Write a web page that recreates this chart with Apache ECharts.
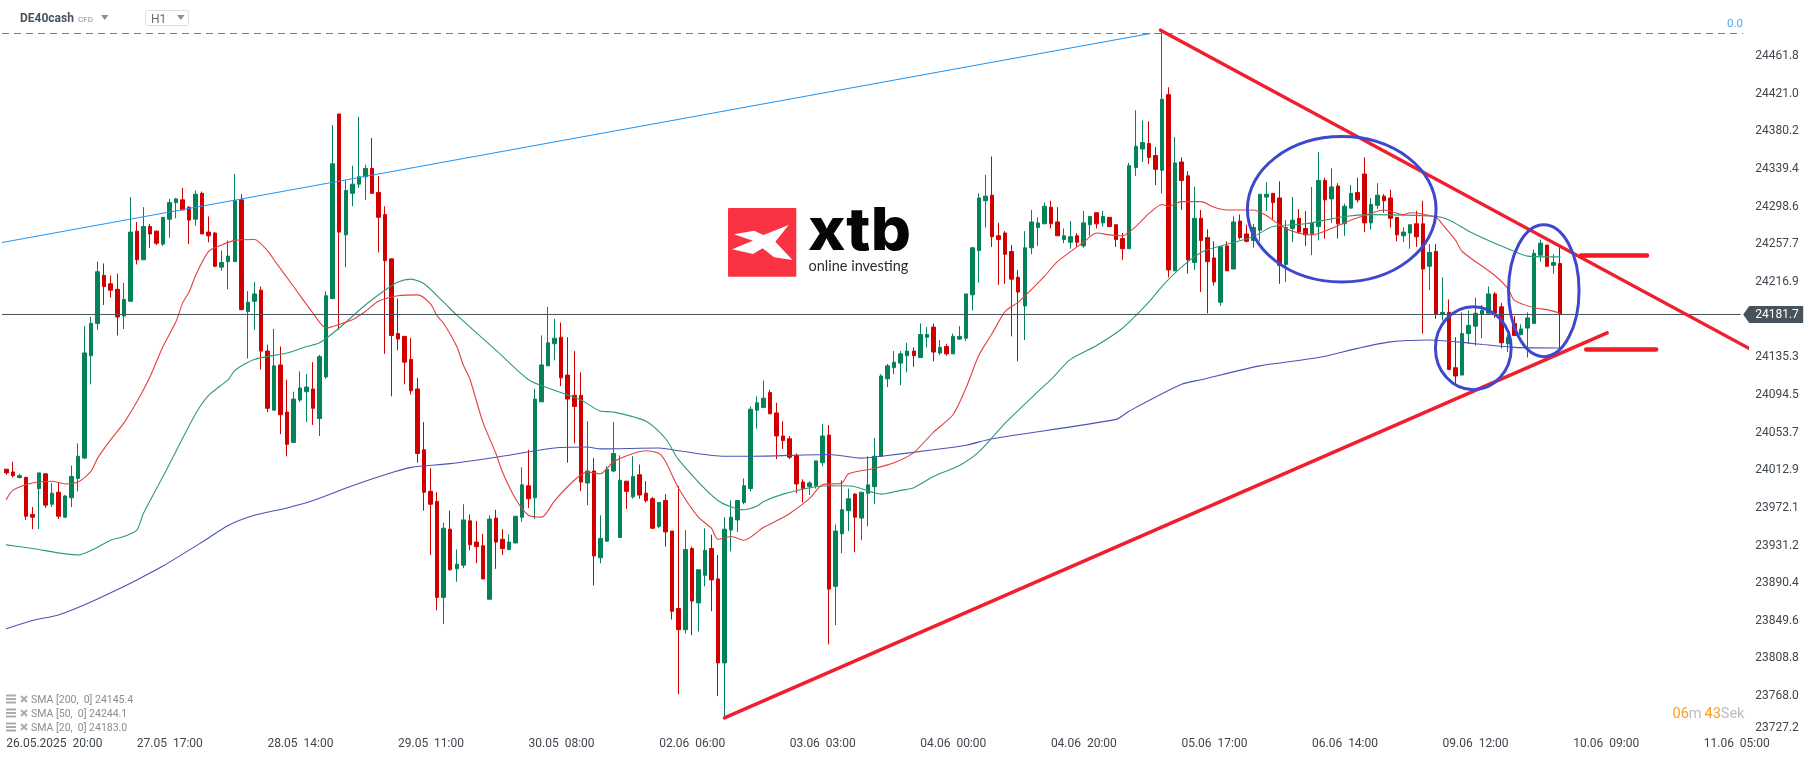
<!DOCTYPE html>
<html>
<head>
<meta charset="utf-8">
<script src="https://cdn.jsdelivr.net/npm/echarts@6/dist/echarts.min.js"></script>
<style>html,body{margin:0;padding:0;background:#fff}#c{width:1815px;height:759px}</style>
</head>
<body>
<div id="c"></div>
<script>
const tickLabels = ["26.05.2025  20:00","27.05  17:00","28.05  14:00","29.05  11:00","30.05  08:00","02.06  06:00","03.06  03:00","04.06  00:00","04.06  20:00","05.06  17:00","06.06  14:00","09.06  12:00","10.06  09:00","11.06  05:00"];
const priceTicks = [23727.2,23768.0,23808.8,23849.6,23890.4,23931.2,23972.1,24012.9,24053.7,24094.5,24135.3,24176.1,24216.9,24257.7,24298.6,24339.4,24380.2,24421.0,24461.8];
const lastPrice = 24181.7;
const fibLevel = 24486.3;
const opens = [24014,24011,24005,24005,23965,23993,24009,23976,23989,23962,
23983,24004,24026,24137,24172,24224,24215,24209,24180,24196,
24272,24241,24277,24272,24258,24285,24303,24306,24298,24285,
24313,24271,24270,24233,24239,24239,24306,24185,24196,24208,
24142,24078,24127,24076,24043,24089,24098,24101,24069,24114,
24199,24399,24268,24313,24323,24331,24340,24314,24290,24242,
24161,24158,24133,24101,24035,23990,23979,23875,23949,23906,
23910,23958,23935,23931,23873,23961,23938,23927,23934,23962,
23996,23983,24087,24126,24150,24157,24116,24094,24094,23999,
24012,23918,23936,24012,23940,24001,23984,24008,23988,23982,
23952,23980,23947,23863,23840,23928,23869,23899,23928,23895,
23804,23948,23959,23978,23993,24078,24081,24097,24075,24050,
24047,24029,24000,23995,23996,24021,24051,23887,23944,23969,
23987,23961,23988,23995,24028,24112,24124,24129,24137,24142,
24135,24157,24168,24140,24147,24139,24155,24156,24203,24251,
24305,24311,24267,24270,24250,24222,24191,24254,24276,24280,
24298,24282,24263,24260,24267,24256,24279,24292,24281,24287,
24279,24264,24253,24341,24361,24367,24354,24338,24420,24229,
24347,24332,24238,24286,24265,24243,24195,24256,24231,24283,
24269,24262,24273,24309,24313,24308,24236,24275,24286,24275,
24269,24277,24327,24307,24321,24280,24297,24314,24334,24281,
24300,24310,24308,24287,24267,24270,24280,24280,24234,24250,
24182,24184,24124,24116,24161,24169,24182,24183,24204,24190,
24150,24172,24160,24167,24172,24246,24257,24235,24237];
const closes = [24010,24007,24007,23963,23962,24010,23975,23988,23963,23985,
24006,24028,24140,24172,24228,24212,24208,24179,24198,24271,
24241,24277,24269,24259,24287,24303,24307,24295,24284,24312,
24269,24267,24234,24238,24245,24305,24187,24195,24204,24142,
24080,24126,24073,24041,24090,24102,24103,24080,24136,24202,
24345,24271,24316,24323,24331,24340,24313,24287,24240,24159,
24155,24130,24099,24031,23989,23976,23875,23950,23905,23911,
23959,23932,23930,23895,23960,23935,23928,23935,23963,23997,
23982,24090,24127,24151,24156,24113,24090,24082,24000,24012,
23920,23939,24014,24031,24002,23990,24006,23986,23980,23950,
23978,23946,23860,23840,23927,23871,23905,23926,23894,23804,
23949,23962,23980,23996,24079,24086,24091,24074,24050,24045,
24027,23998,23993,23999,24023,24050,23884,23947,23970,23982,
23962,23989,23997,24028,24115,24126,24130,24139,24142,24137,
24160,24160,24141,24146,24139,24158,24158,24204,24254,24308,
24310,24266,24263,24247,24220,24206,24254,24282,24281,24299,
24280,24267,24267,24266,24260,24281,24288,24280,24288,24277,
24263,24253,24343,24364,24368,24352,24339,24415,24230,24346,
24327,24241,24286,24262,24239,24217,24255,24229,24282,24265,
24261,24276,24312,24312,24303,24235,24276,24284,24271,24268,
24281,24327,24306,24320,24280,24299,24313,24306,24281,24301,
24311,24305,24286,24268,24271,24279,24266,24231,24249,24182,
24184,24122,24115,24161,24170,24183,24186,24204,24183,24151,
24157,24159,24166,24178,24248,24259,24234,24238,24181.7];
const lows = [24008,24005,24004,23959,23949,23949,23972,23973,23960,23961,
23973,23990,24025,24106,24165,24192,24200,24159,24166,24196,
24236,24241,24254,24257,24256,24265,24286,24295,24258,24278,
24269,24260,24233,24229,24209,24239,24186,24134,24165,24122,
24076,24078,24052,24028,24043,24087,24065,24062,24050,24112,
24199,24165,24233,24299,24319,24306,24313,24249,24139,24093,
24143,24106,24095,24021,23969,23921,23861,23846,23904,23892,
23907,23926,23912,23895,23873,23906,23921,23926,23934,23957,
23972,23960,24087,24126,24132,24104,24021,24042,23990,23975,
23888,23912,23936,24011,23940,23971,23982,23982,23978,23949,
23950,23930,23851,23770,23836,23834,23838,23887,23860,23768,
23743,23925,23946,23976,23990,24058,24081,24074,24025,24036,
24025,23988,23978,23986,23993,24017,23824,23845,23923,23947,
23924,23937,23952,23976,24028,24103,24117,24105,24119,24125,
24135,24146,24131,24138,24137,24139,24154,24153,24186,24216,
24276,24255,24214,24215,24158,24131,24154,24247,24256,24280,
24275,24267,24259,24253,24255,24254,24267,24275,24277,24277,
24255,24241,24253,24332,24347,24345,24322,24313,24222,24229,
24295,24226,24230,24206,24183,24213,24191,24229,24231,24263,
24260,24254,24261,24294,24284,24215,24217,24260,24269,24256,
24246,24262,24264,24281,24264,24267,24296,24303,24271,24274,
24296,24292,24276,24261,24260,24253,24255,24161,24208,24177,
24175,24122,24106,24116,24150,24148,24156,24183,24178,24145,
24141,24159,24159,24135,24172,24239,24233,24226,24143];
const highs = [24014,24022,24009,24006,23973,24010,24009,23999,23999,23986,
24018,24042,24169,24179,24239,24237,24224,24226,24216,24309,
24282,24298,24280,24273,24287,24307,24308,24319,24299,24316,
24315,24288,24271,24251,24262,24334,24312,24207,24217,24212,
24149,24166,24147,24111,24098,24120,24117,24130,24138,24207,
24387,24399,24327,24343,24396,24344,24373,24332,24299,24242,
24199,24158,24156,24113,24065,24015,23989,23956,23969,23927,
23976,23965,23958,23944,23964,23970,23949,23943,23963,24016,
24035,24101,24159,24190,24177,24173,24157,24142,24119,24066,
24026,23964,24017,24065,24029,24001,24028,24019,24001,23984,
23978,23987,23947,23996,23948,23930,23905,23950,23943,23921,
23962,23980,23980,24004,24082,24093,24110,24100,24086,24066,
24050,24031,24003,24001,24023,24063,24062,23954,24002,23993,
23988,23989,24028,24048,24117,24128,24142,24142,24151,24146,
24172,24168,24172,24154,24150,24161,24169,24204,24255,24313,
24333,24353,24281,24272,24257,24230,24272,24295,24287,24303,
24305,24298,24275,24283,24270,24294,24288,24292,24294,24287,
24279,24270,24346,24403,24392,24391,24363,24488,24428,24374,
24352,24337,24320,24295,24274,24261,24256,24261,24288,24290,
24279,24280,24312,24325,24313,24326,24284,24309,24296,24294,
24320,24358,24330,24340,24324,24302,24322,24330,24352,24308,
24324,24312,24317,24287,24276,24279,24294,24305,24258,24258,
24222,24198,24157,24184,24186,24200,24192,24212,24206,24194,
24160,24180,24171,24184,24252,24263,24257,24247,24255];
const sma200 = [[0,23841],[4,23850],[8,23856],[12,23867],[16,23880],[20,23894],[24,23909],[30,23935],[34,23953],[38,23964],[43,23972],[47,23980],[53,23996],[58,24008],[62,24016],[68,24020],[75,24027],[84,24037],[89,24038],[91,24036],[100,24037],[103,24034],[110,24028],[114,24028],[126,24030],[131,24026],[134,24028],[142,24035],[147,24040],[151,24047],[170,24068],[172,24077],[180,24106],[183,24111],[192,24126],[201,24135],[207,24145],[212,24152],[218,24154],[225,24150],[231,24146],[238,24145.4]];
const sma50 = [[0,23932],[4,23928],[11,23921],[13,23926],[16,23937],[18,23941],[20,23948],[21,23966],[24,24006],[29,24074],[31,24094],[34,24111],[35,24121],[38,24133],[43,24140],[46,24147],[48,24151],[51,24167],[55,24192],[58,24208],[60,24217],[62,24220],[64,24215],[67,24195],[69,24181],[75,24143],[80,24111],[83,24102],[88,24089],[91,24077],[93,24076],[98,24066],[101,24047],[103,24024],[109,23980],[113,23970],[115,23974],[116,23979],[119,23987],[124,23995],[128,23996],[130,23995],[134,23987],[137,23991],[139,23994],[142,24006],[146,24018],[149,24033],[153,24064],[158,24098],[160,24111],[163,24133],[167,24148],[171,24167],[175,24195],[177,24212],[180,24233],[183,24249],[186,24256],[191,24266],[194,24277],[199,24280],[205,24288],[209,24290],[219,24288],[221,24284],[224,24272],[227,24262],[228,24259],[231,24250],[233,24245],[238,24244.1]];
const sma20 = [[0,23981],[1,23991],[4,23999],[7,24001],[9,23998],[11,24000],[13,24012],[14,24026],[16,24046],[18,24064],[20,24087],[22,24114],[24,24147],[26,24174],[27,24194],[28,24206],[29,24224],[31,24250],[33,24257],[35,24262],[38,24263],[40,24251],[41,24241],[44,24212],[47,24183],[49,24167],[51,24171],[53,24176],[55,24185],[57,24196],[60,24202],[63,24203],[65,24193],[66,24180],[67,24172],[69,24147],[70,24127],[71,24112],[73,24065],[75,24031],[76,24011],[78,23982],[80,23964],[82,23962],[84,23980],[87,24002],[89,24011],[91,24009],[93,24022],[96,24031],[98,24034],[100,24031],[101,24022],[103,23993],[106,23962],[108,23950],[109,23938],[111,23941],[113,23937],[116,23951],[118,23958],[120,23966],[123,23982],[125,23997],[128,23999],[129,24009],[133,24015],[136,24021],[139,24032],[142,24054],[145,24073],[147,24102],[149,24138],[151,24161],[153,24185],[155,24195],[159,24223],[161,24239],[165,24260],[167,24270],[169,24268],[171,24267],[173,24277],[175,24291],[177,24301],[178,24299],[180,24304],[183,24304],[185,24298],[187,24295],[191,24295],[193,24289],[195,24279],[197,24272],[200,24268],[203,24275],[206,24284],[208,24289],[211,24295],[214,24290],[215,24292],[219,24287],[220,24279],[222,24262],[223,24250],[228,24224],[230,24210],[231,24197],[234,24189],[236,24187],[238,24183]];
const blueTrend = [[-0.66,24259.7],[175.2,24486.3]];
const redDown = [[176.8,24489.9],[271.7,24126.7]];
const redUp = [[110,23744.4],[245.2,24161.8]];
const redMarkHigh = [[241.2,24245.7],[251.3,24245.7]];
const redMarkLow = [[242,24143.8],[252.7,24143.8]];
const ellipses = [[190.1,219,24217,24374.5],[218.9,230.5,24100.2,24190.2],[230.1,240.9,24136,24279]];
const smaLegend = ["SMA [200,  0] 24145.4","SMA [50,  0] 24244.1","SMA [20,  0] 24183.0"];

const slotCount = 267;
const categories = Array.from({length: slotCount}, (_, i) => i % 20 === 0 ? tickLabels[i / 20] : '');
const candles = opens.map((o, i) => [o, closes[i], lows[i], highs[i]]);

const UP = '#04825a', DOWN = '#d00000', DARK = '#47525c', FIB = '#2196f3';
const FONT = 'Roboto';

function line(data, color, width, extra) {
  return Object.assign({
    type: 'line', xAxisIndex: 1, yAxisIndex: 0, data, showSymbol: false, symbol: 'none',
    silent: true, clip: false, smooth: false, animation: false,
    lineStyle: { color, width, cap: 'round' }, emphasis: { disabled: true }
  }, extra || {});
}

const chrome = [];
function txt(x, y, text, size, fill, weight, family, extra) {
  chrome.push(Object.assign({ type: 'text', x, y, silent: true, z: 50,
    style: { text, fontSize: size, fill, fontWeight: weight || 400, fontFamily: family || FONT, verticalAlign: 'middle', align: 'left' } }, extra || {}));
}
function tri(x, y, w, h, fill) {
  chrome.push({ type: 'polygon', silent: true, z: 50,
    shape: { points: [[x, y], [x + w, y], [x + w / 2, y + h]] }, style: { fill } });
}
txt(20, 19, 'DE40cash', 12, DARK, 700);
txt(78, 19.5, 'CFD', 8, '#8b8f94', 400);
tri(101, 15, 7.5, 5, '#8b8f94');
chrome.push({ type: 'rect', silent: true, z: 50, shape: { x: 145.5, y: 10.5, width: 43, height: 15, r: 2 }, style: { fill: '#fff', stroke: '#dedede', lineWidth: 1 } });
txt(151, 19.5, 'H1', 12, '#666b70', 400);
tri(177, 15, 7.5, 5, '#8b8f94');
txt(1727, 24.5, '0.0', 11.5, '#4aa8f5', 400);

chrome.push({ type: 'rect', silent: true, z: 50, shape: { x: 728, y: 208, width: 68.3, height: 68.7, r: 1 }, style: { fill: '#f93342' } });
chrome.push({ type: 'polygon', silent: true, z: 51,
  shape: { points: [[734,234.3],[754.2,230.7],[763.4,235],[788.7,225],[775.3,241.7],[792.5,260],[774.1,257.3],[762.6,248.3],[753,254],[732,249.3],[753,240.7]] },
  style: { fill: '#fff' } });
txt(808, 232, 'xtb', 59, '#050505', 800, 'Inter', { scaleX: 1.07, scaleY: 1 });
txt(808.5, 266.5, 'online investing', 14.5, '#2b2b2b', 400, 'Lato');

smaLegend.forEach((t, k) => {
  const y = 700 + k * 14;
  [-4.5, -1, 2.5].forEach(d => chrome.push({ type: 'rect', silent: true, z: 50, shape: { x: 6, y: y + d - 1, width: 10, height: 2 }, style: { fill: '#ababab' } }));
  chrome.push({ type: 'polyline', silent: true, z: 50, shape: { points: [[21, y - 4], [27, y + 2]] }, style: { stroke: '#ababab', lineWidth: 2 } });
  chrome.push({ type: 'polyline', silent: true, z: 50, shape: { points: [[27, y - 4], [21, y + 2]] }, style: { stroke: '#ababab', lineWidth: 2 } });
  txt(31, y + 0.5, t, 10.5, '#8d8d8d', 400);
});
chrome.push({ type: 'text', x: 1672.5, y: 714.5, silent: true, z: 50,
  style: { text: '{o|06}{g|m} {o|43}{g|Sek}', verticalAlign: 'middle', align: 'left', fontFamily: FONT,
    rich: { o: { fill: '#ff9a1f', fontSize: 14.5, fontFamily: FONT }, g: { fill: '#bdbdbd', fontSize: 14.5, fontFamily: FONT } } } });

const BASE = 24522.6;
const option = {
  animation: false,
  backgroundColor: '#ffffff',
  textStyle: { fontFamily: FONT },
  grid: { left: 3, top: 20, width: 1743.2, height: 715, containLabel: false },
  xAxis: [
    { type: 'category', data: categories, boundaryGap: true,
      axisLine: { show: false }, axisTick: { show: false }, splitLine: { show: false },
      axisLabel: { interval: (i) => i % 20 === 0, align: 'left', margin: 3, fontSize: 12, color: '#3f464d', fontFamily: FONT, hideOverlap: false } },
    { type: 'value', min: -0.5, max: slotCount - 0.5, show: false }
  ],
  yAxis: { type: 'value', position: 'right', min: BASE - 1.084 * 735, max: BASE - 1.084 * 20,
    axisLine: { show: false }, axisTick: { show: false }, splitLine: { show: false },
    axisLabel: { customValues: priceTicks, margin: 9, fontSize: 12, color: '#3f464d', fontFamily: FONT, padding: [4, 0, 0, 0],
      formatter: (v) => v.toFixed(1), verticalAlignMinLabel: 'bottom' } },
  series: [
    { type: 'candlestick', xAxisIndex: 0, yAxisIndex: 0, data: candles, barWidth: 4, silent: true, clip: false,
      itemStyle: { color: UP, color0: DOWN, borderColor: UP, borderColor0: DOWN, borderWidth: 1 } },
    line(sma200, '#4a54b4', 1.1, { z: 3, smooth: 0.25 }),
    line(sma50, '#2f9a78', 1.1, { z: 3, smooth: 0.25 }),
    line(sma20, '#e3403f', 1.1, { z: 3, smooth: 0.25 }),
    line([[-0.66, fibLevel], [266, fibLevel]], FIB, 1, { z: 4, lineStyle: { color: FIB, width: 1, type: [7, 5] } }),
    line([[-0.66, lastPrice], [265.6, lastPrice]], DARK, 1, { z: 4 }),
    line(blueTrend, FIB, 1.2, { z: 4 }),
    line(redDown, '#f01f2e', 3.5, { z: 6 }),
    line(redUp, '#f01f2e', 3.5, { z: 6 }),
    line(redMarkHigh, '#ee1c25', 4.5, { z: 6 }),
    line(redMarkLow, '#ee1c25', 4.5, { z: 6 }),
    { type: 'custom', xAxisIndex: 1, yAxisIndex: 0, z: 7, silent: true, clip: false, data: ellipses,
      encode: { x: [0, 1], y: [2, 3] },
      renderItem: (params, api) => {
        const a = api.coord([api.value(0), api.value(3)]);
        const b = api.coord([api.value(1), api.value(2)]);
        return { type: 'ellipse', shape: { cx: (a[0] + b[0]) / 2, cy: (a[1] + b[1]) / 2, rx: (b[0] - a[0]) / 2, ry: (b[1] - a[1]) / 2 },
          style: { fill: 'none', stroke: '#3f48cc', lineWidth: 3 } };
      } },
    { type: 'custom', xAxisIndex: 1, yAxisIndex: 0, z: 8, silent: true, clip: false, data: [[slotCount - 0.5, lastPrice]],
      renderItem: (params, api) => {
        const p = api.coord([api.value(0), api.value(1)]);
        const x = p[0], y = p[1];
        return { type: 'group', children: [
          { type: 'polygon', shape: { points: [[x - 3, y], [x + 3, y - 8.5], [x + 57, y - 8.5], [x + 57, y + 8.5], [x + 3, y + 8.5]] }, style: { fill: DARK } },
          { type: 'text', x: x + 9, y: y + 0.5, style: { text: lastPrice.toFixed(1), fontSize: 12, fill: '#fff', fontFamily: FONT, verticalAlign: 'middle', align: 'left' } }
        ] };
      } }
  ],
  graphic: { elements: chrome }
};
const chart = echarts.init(document.getElementById('c'), null, { renderer: 'canvas' });
chart.setOption(option);
</script>
</body>
</html>
